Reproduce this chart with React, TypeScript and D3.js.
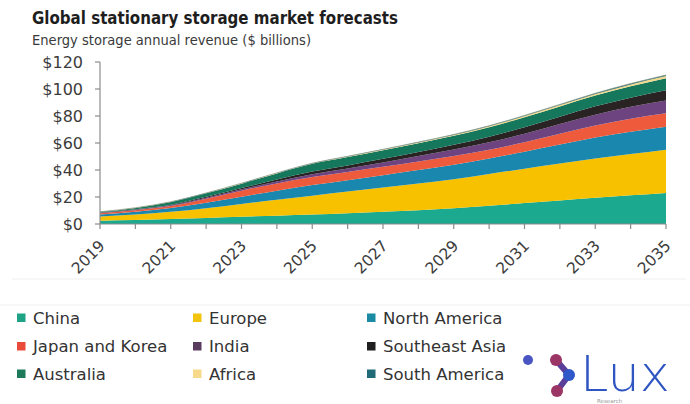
import React from "react";
import * as d3 from "d3";

const years = [2019, 2020, 2021, 2022, 2023, 2024, 2025, 2026, 2027, 2028, 2029, 2030, 2031, 2032, 2033, 2034, 2035];
const china = [2.5, 3, 3.7, 4.5, 5.4, 6.2, 7, 8, 9, 10.2, 11.6, 13.5, 15.5, 17.5, 19.5, 21.3, 23];
const europe = [3, 4, 5.3, 7.2, 9.4, 11.7, 14, 16, 18, 19.8, 21.5, 23.5, 25.5, 27.3, 29, 30.5, 32];
const northAmerica = [1.5, 2, 2.8, 4, 5.4, 6.7, 7.8, 8.5, 9.2, 10, 10.8, 11.5, 12.5, 14, 15.5, 16.5, 17];
const japanKorea = [1, 1.2, 1.5, 3, 4.5, 5.4, 6, 6.1, 6.2, 6.3, 6.4, 6.5, 7, 8, 9, 9.7, 10];
const india = [0.3, 0.4, 0.5, 0.7, 1, 1.5, 2, 2.5, 3.2, 4, 4.8, 5.5, 6.3, 7.2, 8, 8.8, 9.5];
const southeastAsia = [0.3, 0.4, 0.5, 0.7, 1, 1.5, 2, 2.3, 2.7, 3.1, 3.6, 4.2, 4.9, 5.5, 6.2, 6.8, 7.5];
const australia = [0.4, 0.9, 2, 2.6, 3.2, 4.5, 5.8, 6.2, 6.4, 6.5, 6.7, 7, 7.4, 7.6, 7.9, 8.4, 9];
const africa = [0.05, 0.07, 0.1, 0.15, 0.2, 0.25, 0.3, 0.35, 0.4, 0.5, 0.6, 0.7, 0.9, 1.0, 1.2, 1.4, 1.6];
const southAmerica = [0.03, 0.04, 0.05, 0.07, 0.1, 0.12, 0.15, 0.18, 0.2, 0.25, 0.3, 0.35, 0.4, 0.45, 0.5, 0.6, 0.7];

const seriesNames = ["China", "Europe", "North America", "Japan and Korea", "India", "Southeast Asia", "Australia", "Africa", "South America"];
const seriesValues = [china, europe, northAmerica, japanKorea, india, southeastAsia, australia, africa, southAmerica];
const areaColors = ["#1ba98f", "#f7c100", "#1a88ae", "#ee5a3c", "#6d4380", "#2a2324", "#15785c", "#f1d98c", "#1c6470"];
const legendColors = ["#1fa386", "#f2c40d", "#1b8aa3", "#ea4a3a", "#5a3c5e", "#1f1f1f", "#1d7a5a", "#f6d98a", "#1f6b77"];
const legendOrder = [
  ["China", "Europe", "North America"],
  ["Japan and Korea", "India", "Southeast Asia"],
  ["Australia", "Africa", "South America"],
];
const yTicks = [0, 20, 40, 60, 80, 100, 120];
const xLabelYears = [2019, 2021, 2023, 2025, 2027, 2029, 2031, 2033, 2035];

export default function App() {
  const x = d3.scaleLinear().domain([2019, 2035]).range([100, 666]);
  const y = d3.scaleLinear().domain([0, 120]).range([224, 62]);

  const table = years.map((yr, i) => {
    const row: any = { year: yr };
    seriesNames.forEach((n, k) => (row[n] = seriesValues[k][i]));
    return row;
  });
  const stack = d3.stack().keys(seriesNames)(table as any);
  const area = d3
    .area<any>()
    .x((d) => x(d.data.year))
    .y0((d) => y(d[0]))
    .y1((d) => y(d[1]))
    .curve(d3.curveMonotoneX);
  const topLine = d3
    .line<any>()
    .x((d) => x(d.data.year))
    .y((d) => y(d[1]))
    .curve(d3.curveMonotoneX);

  const font = "'DejaVu Sans', Verdana, sans-serif";
  const condensed = "'DejaVu Sans Condensed', 'DejaVu Sans', sans-serif";
  const colX = [17, 193, 367];
  const rowY = [318, 346.5, 374];

  return (
    <svg width={690} height={404} style={{ position: "absolute", left: 0, top: 0, background: "#fff" }}>
      <rect x={0} y={0} width={690} height={404} fill="#fff" />
      <line x1={12} x2={686} y1={279} y2={279} stroke="#efefef" strokeWidth={1} />
      <line x1={0} x2={690} y1={305} y2={305} stroke="#f0f0f0" strokeWidth={1} />
      <text x={32} y={24} fontFamily={condensed} fontWeight="bold" fontSize={18.5} fill="#1e1e1e" textLength={366} lengthAdjust="spacingAndGlyphs">
        Global stationary storage market forecasts
      </text>
      <text x={32} y={45} fontFamily={condensed} fontSize={14.5} fill="#3a3a3a" textLength={279} lengthAdjust="spacingAndGlyphs">
        Energy storage annual revenue ($ billions)
      </text>

      {stack.map((s, i) => (
        <path key={seriesNames[i]} d={area(s as any) || ""} fill={areaColors[i]} />
      ))}
      <path d={topLine(stack[stack.length - 1] as any) || ""} fill="none" stroke="#8a9a8a" strokeWidth={0.8} />

      <line x1={100} x2={100} y1={y(120)} y2={y(0)} stroke="#8c8c8c" strokeWidth={1.2} />
      {yTicks.map((t) => (
        <g key={t}>
          <line x1={95} x2={100} y1={y(t)} y2={y(t)} stroke="#8c8c8c" strokeWidth={1.2} />
          <text x={83} y={y(t)} dy="0.36em" textAnchor="end" fontFamily={font} fontSize={16} fill="#3c3c3c">
            {"$" + t}
          </text>
        </g>
      ))}
      <line x1={100} x2={666} y1={y(0)} y2={y(0)} stroke="#8c8c8c" strokeWidth={1.2} />
      {years.map((yr) => (
        <line key={yr} x1={x(yr)} x2={x(yr)} y1={y(0)} y2={y(0) + 5} stroke="#8c8c8c" strokeWidth={1.2} />
      ))}
      {xLabelYears.map((yr) => (
        <text
          key={yr}
          transform={`translate(${x(yr) + 2},${243}) rotate(-45)`}
          textAnchor="end"
          dy="0.35em"
          fontFamily={font}
          fontSize={15.5}
          fill="#3c3c3c"
        >
          {yr}
        </text>
      ))}

      {legendOrder.map((row, r) =>
        row.map((name, c) => {
          const idx = seriesNames.indexOf(name);
          return (
            <g key={name}>
              <rect x={colX[c]} y={rowY[r] - 4.5} width={8.5} height={8.5} fill={legendColors[idx]} />
              <text x={colX[c] + 16} y={rowY[r]} dy="0.36em" fontFamily={font} fontSize={16.5} fill="#333">
                {name}
              </text>
            </g>
          );
        })
      )}

      <g>
        <circle cx={528} cy={360} r={5} fill="#4a55c4" />
        <path d="M556,360 L569,375 L557,391" fill="none" stroke="#5a3f9a" strokeWidth={6} strokeLinejoin="round" />
        <circle cx={556} cy={360} r={6} fill="#9a3566" />
        <circle cx={557} cy={391} r={6} fill="#9a3566" />
        <circle cx={569} cy={375} r={6} fill="#2f58c8" />
        <text x={580} y={391} fontFamily="'DejaVu Sans ExtraLight', 'DejaVu Sans', sans-serif" fontWeight={200} fontSize={50} fill="#2f55c2" textLength={90} lengthAdjust="spacingAndGlyphs">
          Lux
        </text>
        <text x={597} y={403} fontFamily={font} fontSize={5.5} fill="#999">
          Research
        </text>
      </g>
    </svg>
  );
}
